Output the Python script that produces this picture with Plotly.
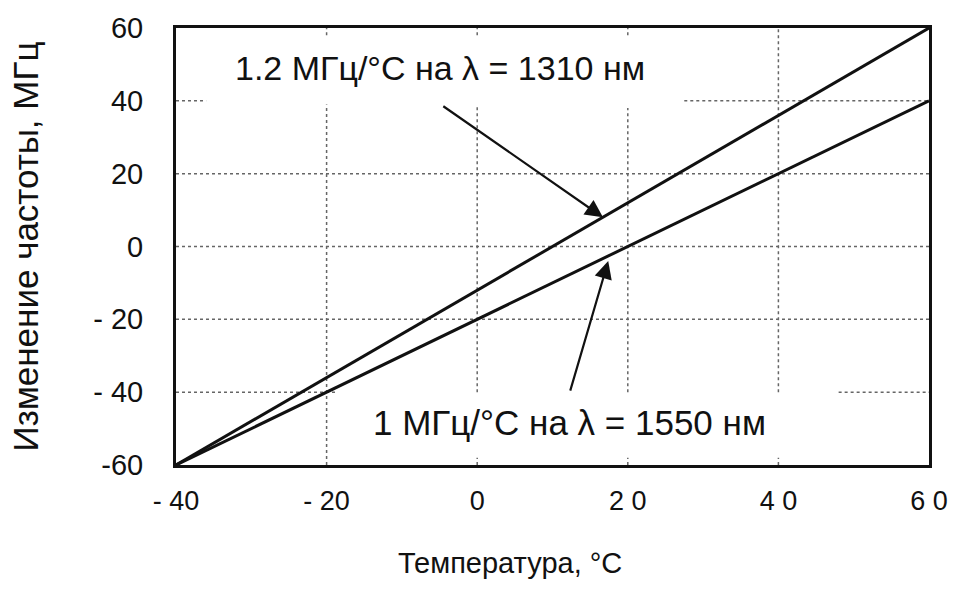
import plotly.graph_objects as go

# Data
temperature = [-40, -20, 0, 20, 40, 60]
shift_1310 = [-60, -36, -12, 12, 36, 60]
shift_1550 = [-60, -40, -20, 0, 20, 40]

x_ticks = [-40, -20, 0, 20, 40, 60]
x_tick_text = ["- 40", "- 20", "0", "2 0", "4 0", "6 0"]
y_ticks = [-60, -40, -20, 0, 20, 40, 60]
y_tick_text = ["-60", "- 40", "- 20", "0", "20", "40", "60"]

label_1310 = "1.2 МГц/°C на λ = 1310 нм"
label_1550 = "1 МГц/°C на λ = 1550 нм"
x_title = "Температура, °C"
y_title = "Изменение частоты, МГц"

FONT = "Liberation Sans, Arial, sans-serif"

fig = go.Figure()
fig.add_trace(go.Scatter(x=temperature, y=shift_1310, mode="lines",
                         line=dict(color="#111", width=3), showlegend=False))
fig.add_trace(go.Scatter(x=temperature, y=shift_1550, mode="lines",
                         line=dict(color="#111", width=3), showlegend=False))

# Partial dotted gridlines (gaps where labels sit)
grid_style = dict(color="#666", width=1.5, dash="dot")
h_segments = [(40, -40, -36), (40, 27.5, 60), (20, -40, 60), (0, -40, 60),
              (-20, -40, 60), (-40, -40, -18.5), (-40, 48, 60)]
v_segments = [(-20, 58, 60), (-20, -60, 39), (0, 58, 60), (0, -40, 39), (0, -60, -58),
              (20, 58, 60), (20, -40, 38), (20, -60, -58), (40, -40, 60), (40, -60, -58)]
shapes = []
for y, x0, x1 in h_segments:
    shapes.append(dict(type="line", xref="x", yref="y", x0=x0, x1=x1, y0=y, y1=y,
                       line=grid_style, layer="below"))
for x, y0, y1 in v_segments:
    shapes.append(dict(type="line", xref="x", yref="y", x0=x, x1=x, y0=y0, y1=y1,
                       line=grid_style, layer="below"))

annotations = [
    dict(x=-4.9, y=49, xref="x", yref="y", text=label_1310, showarrow=False,
         font=dict(size=34, color="#111", family=FONT), xanchor="center", yanchor="middle"),
    dict(x=16.7, y=8.0, ax=-4.7, ay=38.8, xref="x", yref="y", axref="x", ayref="y",
         text="", showarrow=True, arrowhead=2, arrowsize=1.6, arrowwidth=2.2, arrowcolor="#111"),
    dict(x=12.2, y=-48.3, xref="x", yref="y", text=label_1550, showarrow=False,
         font=dict(size=35, color="#111", family=FONT), xanchor="center", yanchor="middle"),
    dict(x=17.4, y=-4.0, ax=12.3, ay=-40, xref="x", yref="y", axref="x", ayref="y",
         text="", showarrow=True, arrowhead=2, arrowsize=1.6, arrowwidth=2.2, arrowcolor="#111"),
    dict(x=4.4, y=-0.225, xref="x", yref="paper", text=x_title, showarrow=False,
         font=dict(size=29, color="#111", family=FONT), xanchor="center", yanchor="middle"),
]

fig.update_layout(
    width=960, height=592,
    margin=dict(l=176, r=27, t=17, b=127),
    paper_bgcolor="white", plot_bgcolor="white",
    shapes=shapes, annotations=annotations,
    font=dict(family=FONT, color="#111"),
    xaxis=dict(range=[-40, 60], tickvals=x_ticks, ticktext=x_tick_text,
               showgrid=False, zeroline=False, showline=True, mirror=True,
               linecolor="#111", linewidth=3, ticks="",
               tickfont=dict(size=27, family=FONT),
               ticklabelstandoff=10),
    yaxis=dict(range=[-60, 60], tickvals=y_ticks, ticktext=y_tick_text,
               showgrid=False, zeroline=False, showline=True, mirror=True,
               linecolor="#111", linewidth=3, ticks="",
               tickfont=dict(size=29, family=FONT),
               ticklabelstandoff=24,
               title=dict(text=y_title, font=dict(size=35, family=FONT), standoff=44)),
)

fig.write_html("out.html")
